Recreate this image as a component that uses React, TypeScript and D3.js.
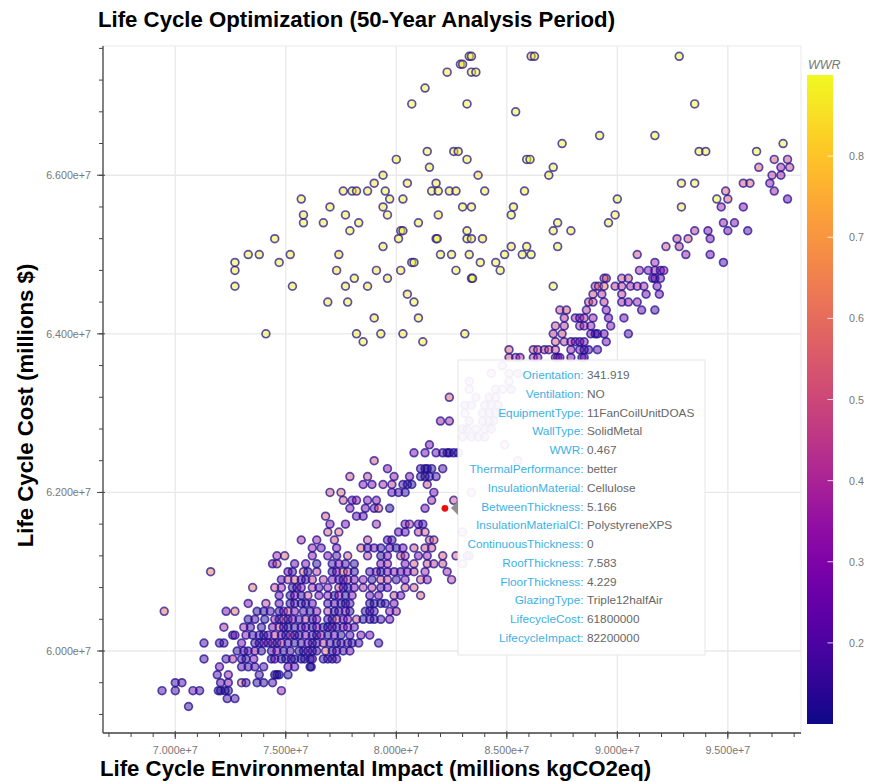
import React from "react";
import * as d3 from "d3";

// Impact and cost are in millions. Each row: [cost, impact, wwr, impact, wwr, ...]
const lowerRows: number[][] = [
  [59.3, 70.6,.15],
  [59.4, 72.35,.2, 72.7,.2],
  [59.5, 69.4,.18, 70.0,.18, 70.8,.25, 71.1,.2, 71.95,.13, 72.05,.13, 72.25,.13, 72.4,.13, 74.8,.35],
  [59.6, 70.0,.18, 70.3,.22, 72.05,.22, 72.4,.3, 73.0,.6, 73.2,.2, 73.7,.13, 74.0,.15, 74.4,.2],
  [59.7, 71.9,.2, 72.4,.35, 73.8,.18, 74.5,.13, 74.6,.13, 74.7,.13, 75.1,.15],
  [59.8, 72.0,.3, 73.0,.2, 73.3,.2, 73.6,.2, 74.0,.2, 75.1,.3, 75.4,.25, 76.1,.13, 76.15,.13],
  [59.9, 71.3,.18, 72.3,.2, 72.6,.4, 73.0,.2, 73.2,.15, 73.55,.3, 74.35,.15, 74.5,.25, 74.8,.13, 75.0,.15, 75.25,.2, 75.4,.13, 75.7,.13, 75.85,.15, 76.1,.13, 76.2,.2, 76.7,.15, 76.9,.2, 77.3,.25, 77.1,.15],
  [60.0, 72.8,.15, 73.1,.25, 73.3,.18, 73.6,.35, 73.9,.15, 74.35,.2, 74.6,.3, 74.9,.15, 75.2,.2, 75.6,.13, 75.8,.13, 76.0,.25, 76.2,.15, 76.4,.2, 76.8,.6, 77.1,.15, 77.3,.2, 77.6,.18, 77.9,.3],
  [60.1, 71.3,.18, 72.0,.2, 72.2,.2, 73.0,.28, 73.6,.18, 73.8,.13, 74.0,.3, 74.2,.18, 74.4,.3, 74.6,.13, 74.8,.4, 75.1,.2, 75.4,.13, 75.7,.18, 76.0,.3, 76.2,.15, 76.4,.18, 76.7,.45, 77.0,.2, 77.3,.13, 77.5,.2, 77.8,.2, 78.0,.15, 78.3,.2, 79.2,.18],
  [60.2, 72.6,.13, 72.7,.3, 73.2,.32, 73.5,.15, 73.8,.2, 74.0,.13, 74.2,.25, 74.5,.45, 74.8,.3, 75.0,.15, 75.2,.4, 75.4,.2, 75.6,.13, 75.9,.3, 76.2,.2, 76.4,.13, 76.6,.35, 76.9,.13, 77.2,.25, 77.5,.13, 77.9,.2, 78.4,.3, 78.8,.28],
  [60.3, 72.2,.4, 73.1,.4, 73.4,.2, 73.9,.13, 74.4,.3, 74.7,.5, 74.9,.2, 75.1,.13, 75.4,.15, 75.7,.2, 75.9,.25, 76.2,.13, 76.4,.3, 76.7,.15, 76.9,.13, 77.1,.25, 77.3,.15, 77.6,.3, 77.8,.35, 78.1,.25],
  [60.4, 73.3,.13, 73.6,.2, 74.05,.13, 74.5,.35, 74.7,.15, 74.9,.5, 75.1,.18, 75.3,.3, 75.6,.18, 75.9,.45, 76.2,.15, 76.4,.3, 76.9,.2, 77.1,.13, 77.3,.5, 77.6,.25, 77.8,.35, 78.2,.5, 78.5,.13, 78.8,.2, 79.0,.13, 79.3,.18, 79.7,.3],
  [60.5, 69.5,.58, 72.3,.28, 72.7,.58, 73.7,.13, 74.0,.15, 74.3,.2, 74.7,.13, 74.9,.3, 75.1,.5, 75.4,.3, 75.8,.2, 76.1,.13, 76.4,.32, 76.9,.45, 77.2,.15, 77.4,.18, 77.7,.32, 77.9,.15, 78.6,.13, 78.8,.2, 79.0,.18, 79.7,.35, 80.0,.4],
  [60.6, 73.3,.3, 74.1,.48, 74.7,.25, 75.2,.15, 75.4,.2, 75.7,.13, 75.9,.15, 76.2,.25, 76.9,.2, 77.2,.22, 77.5,.13, 77.7,.13, 77.9,.2, 78.8,.15, 79.0,.13, 79.3,.13, 79.5,.15, 79.9,.3],
  [60.7, 74.7,.25, 75.2,.13, 75.4,.3, 75.7,.15, 76.0,.5, 76.5,.3, 76.9,.35, 77.2,.15, 77.4,.35, 77.7,.13, 78.0,.3, 78.8,.25, 79.2,.28, 79.9,.5, 80.2,.28, 81.1,.55],
  [60.8, 73.5,.6, 74.5,.5, 74.8,.4, 75.3,.15, 75.5,.2, 75.7,.3, 76.2,.4, 76.5,.2, 76.9,.35, 77.4,.5, 77.6,.25, 77.8,.13, 78.1,.3, 78.5,.4, 78.9,.45, 79.6,.3, 79.3,.2, 80.4,.5, 80.8,.55],
  [60.9, 74.8,.25, 75.1,.5, 75.4,.55, 75.7,.2, 75.9,.2, 76.2,.45, 76.7,.45, 77.1,.3, 77.4,.2, 77.6,.2, 77.8,.45, 78.1,.3, 78.5,.35, 78.9,.15, 79.3,.5, 79.6,.45, 80.0,.18, 80.4,.3, 81.1,.55, 81.4,.35, 82.5,.45],
  [61.0, 71.6,.6, 75.1,.3, 75.3,.2, 75.8,.58, 76.0,.15, 76.4,.45, 77.1,.13, 77.3,.3, 77.6,.6, 77.8,.5, 78.1,.15, 78.8,.2, 79.1,.35, 79.3,.13, 79.6,.3, 79.9,.35, 80.2,.25, 80.5,.3, 80.8,.45, 81.3,.38, 82.3,.38],
  [61.1, 74.4,.28, 74.6,.5, 75.4,.25, 75.9,.3, 76.4,.15, 77.1,.2, 77.4,.3, 77.7,.2, 78.1,.15, 79.3,.3, 79.6,.4, 80.4,.3, 80.8,.55, 81.4,.5, 81.7,.45, 82.1,.5],
  [61.2, 74.6,.38, 74.95,.58, 76.2,.32, 76.9,.3, 77.3,.22, 77.8,.55, 78.7,.45, 79.3,.13, 79.6,.3, 80.2,.5, 80.4,.45, 81.0,.3, 81.4,.38, 82.1,.55, 82.7,.55],
  [61.3, 76.2,.35, 76.6,.25, 77.3,.3, 78.4,.55, 78.7,.2, 79.0,.3, 79.3,.15, 79.7,.25, 80.0,.13, 80.3,.28, 80.8,.5, 81.3,.5, 81.6,.5],
  [61.4, 75.7,.4, 76.4,.35, 77.2,.5, 78.7,.5, 79.6,.25, 79.8,.2, 81.5,.5, 81.7,.55],
  [61.5, 76.9,.55, 77.4,.58, 80.1,.28, 80.4,.25, 81.0,.45, 81.3,.55],
  [61.6, 77.0,.3, 77.7,.28, 79.1,.38, 80.4,.3, 80.6,.45, 81.0,.25, 81.2,.18],
  [61.7, 76.8,.52, 78.2,.25, 78.5,.25],
  [61.8, 77.9,.3, 78.6,.28, 79.0,.3, 79.2,.55, 79.7,.13, 81.3,.28],
  [61.9, 77.6,.52, 78.0,.3, 78.2,.35, 78.7,.32, 79.1,.3, 81.6,.38, 82.6,.5],
  [62.0, 77.0,.5, 77.5,.58, 79.8,.25, 80.1,.2, 80.4,.15, 81.7,.3],
  [62.1, 78.5,.3, 78.9,.3, 79.4,.38, 79.8,.45, 80.3,.2, 80.5,.13, 80.7,.13, 81.4,.5],
  [62.2, 77.9,.52, 78.7,.48, 79.9,.35, 80.6,.32, 81.1,.13, 81.3,.13, 81.5,.15, 81.8,.2],
  [62.3, 79.6,.32, 81.1,.18, 81.3,.13, 81.4,.13, 81.6,.13, 82.1,.2],
  [62.4, 79.0,.5],
  [62.5, 80.8,.3, 81.3,.28, 81.8,.28, 82.1,.2, 82.3,.15, 82.4,.15, 82.6,.15, 82.8,.15],
  [62.6, 81.5,.3],
  [62.9, 82.0,.35, 82.4,.38],
  [63.2, 82.4,.55],
];

const ridgeRows: number[][] = [
  [63.7, 85.1,.5, 85.4,.45, 85.6,.4, 86.2,.42, 86.4,.35, 87.2,.45, 87.3,.3, 87.4,.3, 87.9,.3, 88.4,.25, 88.5,.25],
  [63.8, 85.1,.55, 86.2,.5, 86.4,.5, 86.7,.45, 86.9,.48, 87.2,.5, 87.9,.35, 88.3,.28, 88.5,.2, 88.7,.18, 89.1,.22],
  [63.9, 87.2,.55, 87.6,.45, 87.9,.4, 88.1,.3, 88.3,.3, 88.5,.28, 89.5,.28],
  [64.0, 87.1,.45, 87.5,.5, 88.8,.28, 89.0,.2, 89.1,.2, 89.4,.25, 90.5,.22],
  [64.1, 87.2,.5, 87.6,.45, 88.3,.42, 88.5,.4, 88.8,.35, 89.7,.3],
  [64.2, 87.6,.42, 88.1,.38, 88.3,.35, 88.5,.42, 88.9,.35, 89.6,.28, 90.3,.28],
  [64.3, 87.4,.5, 87.7,.5, 88.6,.42, 89.5,.32, 91.1,.25, 91.7,.2],
  [64.4, 88.7,.5, 88.9,.5, 89.4,.42, 90.2,.38, 90.5,.32, 90.9,.35],
  [64.5, 88.9,.5, 89.3,.42, 90.2,.45, 91.3,.28, 91.9,.28],
  [64.6, 89.0,.48, 89.15,.55, 89.4,.6, 89.9,.45, 90.2,.45, 90.6,.38, 90.9,.42, 91.2,.4, 91.8,.28],
  [64.7, 89.4,.65, 89.5,.45, 90.2,.5, 90.5,.48, 91.6,.28, 91.7,.22, 91.95,.25],
  [64.8, 91.0,.38, 91.4,.28, 91.7,.35, 91.95,.32, 92.1,.32],
  [64.9, 91.7,.38, 94.8,.2],
  [65.0, 90.9,.5, 93.1,.35, 94.2,.28],
  [65.1, 92.2,.52, 92.8,.45],
  [65.2, 92.7,.45, 93.2,.52, 94.2,.3],
  [65.3, 93.5,.42, 94.1,.3, 95.0,.28, 95.9,.22],
  [65.4, 94.8,.35, 95.3,.3],
  [65.6, 94.7,.38, 95.7,.32],
  [65.7, 95.0,.55, 97.7,.25],
  [65.8, 94.9,.55, 97.1,.35],
  [65.9, 95.7,.5, 96.0,.55, 96.9,.33],
  [66.0, 97.0,.45, 97.4,.35],
  [66.1, 96.4,.55, 97.4,.38, 97.8,.48],
  [66.2, 97.1,.52, 97.7,.48],
];

const upperRows: number[][] = [
  [63.9, 78.5,.88, 81.2,.88],
  [64.0, 74.1,.89, 78.2,.87, 79.3,.88, 80.3,.88, 83.1,.88],
  [64.2, 79.0,.86, 81.0,.88],
  [64.4, 76.9,.87, 77.8,.88, 80.8,.88],
  [64.5, 80.5,.86],
  [64.6, 72.7,.88, 75.3,.87, 77.7,.87, 78.7,.87, 87.1,.9],
  [64.7, 78.1,.88, 79.6,.87, 83.4,.89, 83.45,.9],
  [64.8, 72.7,.87, 77.3,.85, 79.1,.85, 80.2,.86, 82.7,.88, 84.7,.88],
  [64.9, 72.7,.89, 74.7,.88, 80.7,.88, 80.8,.9, 83.8,.88, 84.5,.88],
  [65.0, 73.3,.88, 73.8,.88, 75.2,.87, 77.4,.84, 82.0,.88, 82.5,.87, 83.3,.87, 84.9,.88, 85.7,.88, 86.1,.9],
  [65.1, 79.4,.87, 85.2,.86, 85.9,.88, 87.3,.89],
  [65.2, 74.5,.88, 80.1,.87, 81.8,.9, 81.85,.9, 83.2,.88, 83.4,.87, 83.9,.85],
  [65.3, 77.9,.88, 80.2,.9, 80.3,.88, 83.2,.88, 87.1,.88, 87.9,.87],
  [65.4, 75.8,.88, 76.7,.87, 78.3,.88, 81.0,.88, 87.3,.88, 89.6,.88],
  [65.5, 75.8,.85, 77.7,.86, 79.6,.88, 81.9,.87, 85.2,.88, 89.9,.88],
  [65.6, 77.0,.88, 79.4,.86, 83.0,.88, 83.4,.88, 85.3,.88, 92.9,.87],
  [65.7, 75.7,.88, 79.7,.88, 80.3,.88, 90.0,.9, 94.5,.89],
  [65.8, 77.6,.86, 78.0,.88, 78.2,.85, 78.7,.87, 79.5,.89, 81.6,.88, 81.9,.88, 82.4,.86, 82.7,.87, 84.0,.88, 85.8,.88],
  [65.9, 79.0,.86, 80.5,.85, 81.8,.87, 92.9,.86, 93.5,.88],
  [66.0, 79.4,.87, 83.7,.86, 86.9,.88],
  [66.1, 81.5,.88, 87.1,.89],
  [66.2, 80.0,.88, 83.2,.88, 85.9,.9, 86.05,.9],
  [66.3, 81.4,.89, 82.6,.87, 82.8,.85, 93.7,.88, 94.0,.88, 96.3,.9],
  [66.4, 87.5,.89, 97.5,.89],
  [66.5, 89.2,.9, 91.7,.9],
  [66.8, 85.4,.9],
  [66.9, 80.7,.89, 83.2,.88, 93.5,.9],
  [67.1, 81.3,.88],
  [67.3, 82.3,.87, 83.4,.88, 83.6,.88],
  [67.4, 82.9,.84, 83.0,.87],
  [67.5, 83.3,.87, 83.4,.89, 86.1,.84, 86.25,.86, 92.8,.9],
];

// The points that show faintly through the tooltip panel.
const hiddenRows: number[][] = [
  [63.6, 84.8,.4],
  [63.5, 84.3,.45, 85.1,.4, 85.5,.35],
  [63.4, 83.3,.35, 85.1,.4],
  [63.3, 83.3,.4, 84.5,.35, 84.8,.4, 85.2,.3],
  [63.2, 83.6,.3, 84.2,.3, 84.5,.35],
  [63.1, 83.1,.3, 83.4,.3, 84.0,.35, 84.3,.3, 84.6,.3],
  [63.0, 83.1,.35, 83.9,.3, 84.2,.3, 84.5,.3, 84.8,.3],
  [62.9, 83.3,.3, 83.9,.3, 84.2,.35, 84.4,.3],
  [62.8, 83.0,.3, 83.2,.3, 83.6,.35, 84.0,.3, 84.3,.3],
  [62.7, 83.0,.3, 83.4,.3, 83.7,.3, 84.0,.3],
  [62.6, 84.9,.5],
  [62.4, 85.5,.4],
  [62.0, 83.4,.4],
  [61.5, 83.0,.4],
  [61.2, 83.2,.4, 83.3,.4],
  [61.1, 83.0,.4],
];

const selectedImpact = 82.2;
const selectedCost = 61.8;

const xMajorTicks = [70, 75, 80, 85, 90, 95];
const yMajorTicks = [60, 62, 64, 66];
const xMinorTicks = d3.range(67, 99, 1);
const yMinorTicks = [59.2, 59.6, 60, 60.4, 60.8, 61.2, 61.6, 62, 62.4, 62.8, 63.2, 63.6, 64, 64.4, 64.8, 65.2, 65.6, 66, 66.4, 66.8, 67.2, 67.6];
const colorTicks = [0.2, 0.3, 0.4, 0.5, 0.6, 0.7, 0.8];
const tooltipLabels = ["Orientation", "Ventilation", "EquipmentType", "WallType", "WWR", "ThermalPerformance", "InsulationMaterial", "BetweenThickness", "InsulationMaterialCI", "ContinuousThickness", "RoofThickness", "FloorThickness", "GlazingType", "LifecycleCost", "LifecycleImpact"];
const tooltipValues = ["341.919", "NO", "11FanCoilUnitDOAS", "SolidMetal", "0.467", "better", "Cellulose", "5.166", "PolystyreneXPS", "0", "7.583", "4.229", "Triple12halfAir", "61800000", "82200000"];

const sans = "'Liberation Sans', Arial, sans-serif";
const x = d3.scaleLinear().domain([66.73, 98.31]).range([103, 801]);
const y = d3.scaleLinear().domain([58.966, 67.63]).range([733, 46]);
const cbar = d3.scaleLinear().domain([0.1, 0.9]).range([724, 75]);
const tooltipRow = d3.scaleLinear().domain([0, 14]).range([375, 638]);
const color = (w: number) => d3.interpolatePlasma((w - 0.1) / 0.8);

type P = { impact: number; cost: number; wwr: number };
const expand = (rows: number[][]): P[] =>
  rows.flatMap((r) => {
    const out: P[] = [];
    for (let i = 1; i < r.length; i += 2) out.push({ cost: r[0], impact: r[i], wwr: r[i + 1] });
    return out;
  });
const points = [...expand(lowerRows), ...expand(hiddenRows), ...expand(ridgeRows), ...expand(upperRows)];
const fmt = d3.format(".3e");
const gridColor = "#e9e9e9";
const axisColor = "#444";

export default function App() {
  const stops = d3.range(0, 1.0001, 0.05);
  return (
    <svg width={877} height={782} style={{ position: "absolute", left: 0, top: 0, display: "block", background: "#fff" }} fontFamily={sans}>
      <defs>
        <linearGradient id="plasma" x1="0" y1="1" x2="0" y2="0">
          {stops.map((s) => (
            <stop key={s} offset={s} stopColor={d3.interpolatePlasma(s)} />
          ))}
        </linearGradient>
      </defs>
      <text x={98} y={27} fontSize={22.2} fontWeight="bold" fill="#000">Life Cycle Optimization (50-Year Analysis Period)</text>
      <text x={100} y={776} fontSize={22.2} fontWeight="bold" fill="#000">Life Cycle Environmental Impact (millions kgCO2eq)</text>
      <text transform="translate(33,405.5) rotate(-90)" textAnchor="middle" fontSize={22.2} fontWeight="bold" fill="#000">Life Cycle Cost (millions $)</text>

      <rect x={103} y={46} width={698} height={687} fill="none" stroke="#f1f1f1" strokeWidth={1.5} />
      {xMajorTicks.map((t) => (
        <line key={t} x1={x(t)} x2={x(t)} y1={46} y2={733} stroke={gridColor} strokeWidth={1.3} />
      ))}
      {yMajorTicks.map((t) => (
        <line key={t} x1={103} x2={801} y1={y(t)} y2={y(t)} stroke={gridColor} strokeWidth={1.3} />
      ))}

      {points.map((p, i) => (
        <circle key={i} cx={x(p.impact)} cy={y(p.cost)} r={3.9} fill={color(p.wwr)} fillOpacity={0.48} stroke="#1c0f8c" strokeOpacity={0.72} strokeWidth={1.7} />
      ))}
      <circle cx={x(selectedImpact)} cy={y(selectedCost)} r={3.4} fill="#f00c0c" />

      <line x1={103} x2={103} y1={46} y2={733} stroke={axisColor} strokeWidth={1.3} />
      <line x1={103} x2={801} y1={733} y2={733} stroke={axisColor} strokeWidth={1.3} />
      {xMinorTicks.map((t) => (
        <line key={t} x1={x(t)} x2={x(t)} y1={733} y2={737} stroke={axisColor} />
      ))}
      {yMinorTicks.map((t) => (
        <line key={t} x1={99} x2={103} y1={y(t)} y2={y(t)} stroke={axisColor} />
      ))}
      {xMajorTicks.map((t) => (
        <g key={t}>
          <line x1={x(t)} x2={x(t)} y1={731} y2={739} stroke={axisColor} />
          <text x={x(t)} y={754} textAnchor="middle" fontSize={10.7} fill="#777">{fmt(t * 1e6)}</text>
        </g>
      ))}
      {yMajorTicks.map((t) => (
        <g key={t}>
          <line x1={97} x2={105} y1={y(t)} y2={y(t)} stroke={axisColor} />
          <text x={91} y={y(t) + 4} textAnchor="end" fontSize={10.7} fill="#777">{fmt(t * 1e6)}</text>
        </g>
      ))}

      <rect x={458} y={360} width={247} height={295} fill="#fff" fillOpacity={0.93} stroke="#e6e6e6" strokeWidth={1} />
      <path d="M451 508 L458 501 L458 515 Z" fill="#8f8f8f" />
      {tooltipLabels.map((l, i) => (
        <g key={l}>
          <text x={583.5} y={tooltipRow(i) + 4} textAnchor="end" fontSize={11.8} fill="#3cb1e6">{l}:</text>
          <text x={587} y={tooltipRow(i) + 4} fontSize={11.8} fill="#666">{tooltipValues[i]}</text>
        </g>
      ))}

      <text x={808} y={69} fontSize={12.5} fontStyle="italic" fill="#777">WWR</text>
      <rect x={807} y={75} width={26} height={649} fill="url(#plasma)" />
      {colorTicks.map((t) => (
        <g key={t}>
          <line x1={827.5} x2={833} y1={cbar(t)} y2={cbar(t)} stroke="#fff" strokeOpacity={0.8} />
          <text x={849} y={cbar(t) + 4} fontSize={10.7} fill="#777">{t.toFixed(1)}</text>
        </g>
      ))}
    </svg>
  );
}
